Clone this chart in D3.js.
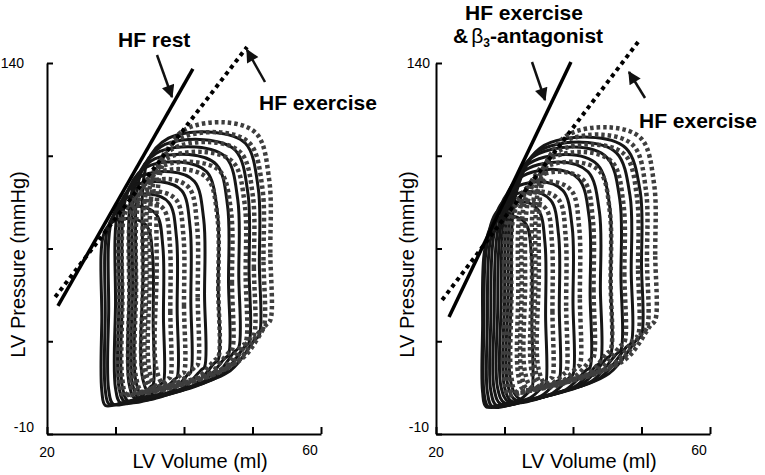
<!DOCTYPE html>
<html>
<head>
<meta charset="utf-8">
<script src="https://cdn.jsdelivr.net/npm/d3@7"></script>
<style>
body { margin: 0; background: #fff; }
text { font-family: "Liberation Sans", Arial, sans-serif; }
</style>
</head>
<body>
<div id="chart"></div>
<script>
// axis ticks
var volumeTicks = [20, 30, 40, 50, 60];
var pressureTicks = [140, 102.5, 65, 27.5, -10];

// each loop: [ESV, EDV, end-systolic P, peak P, end-diastolic P, min P]
var restLoops = [
  [34, 51, 100, 112, 30, 6],
  [33, 49.5, 95, 109, 27, 5],
  [32.5, 48, 93, 106, 25, 4],
  [32, 46.5, 90, 103, 22, 4],
  [31, 45, 86, 100, 20, 3],
  [30.5, 43, 83, 96, 17, 3],
  [30, 41, 81, 92, 15, 2.5],
  [29, 39, 76, 87, 13, 2],
  [28.5, 37, 73, 82, 11, 2],
  [28, 35.5, 71, 77, 10, 1.5]
];
var exerciseLoopsA = [
  [36, 52.6, 97, 116, 36, 10],
  [35, 51.6, 93, 112, 33, 9],
  [34.5, 50.2, 91, 108, 30, 8],
  [34, 49, 89, 104, 27, 8],
  [33, 47, 86, 100, 24, 7],
  [32.5, 45, 84, 97, 21, 7],
  [32, 42, 82, 93, 18, 7],
  [31, 40, 79, 88, 15, 6],
  [30.5, 38, 77, 84, 13, 6]
];
var antagonistLoops = [
  [31, 50, 88, 110, 30, 4],
  [30.5, 48.5, 85, 108, 27, 3.5],
  [30, 47, 82, 106, 24, 3],
  [29.5, 45.5, 79, 103, 22, 3],
  [29, 44, 76, 100, 19, 2.5],
  [28.5, 42.5, 73, 97, 17, 2],
  [28, 40, 71, 92, 14, 1.5],
  [27.5, 38, 68, 88, 12, 1],
  [27, 36, 65, 84, 10, 1],
  [26.8, 34, 64, 78, 8, 1]
];
var exerciseLoopsB = [
  [35, 52, 94, 114, 36, 10],
  [34.5, 50.8, 92, 111, 33, 10],
  [34, 49.5, 90, 107, 30, 9],
  [33, 47.5, 86, 104, 27, 9],
  [32.5, 45.5, 85, 100, 24, 8],
  [32, 43, 83, 96, 21, 8],
  [31, 41, 79, 92, 18, 7],
  [30.5, 39, 77, 88, 15, 7],
  [30, 37, 75, 84, 13, 6]
];

// end-systolic pressure-volume lines, [volume, pressure] ends
var restLine = [[21.6, 41.8], [41.3, 137.6]];
var exerciseLineA = [[21.2, 45.4], [49.2, 146.5]];
var antagonistLine = [[21.9, 37.3], [39.7, 140.4]];
var exerciseLineB = [[20.9, 44.2], [49.5, 148.5]];

var width = 765, height = 475;
var plotW = 274, plotH = 371, plotTop = 63;

var svg = d3.select("#chart").append("svg")
  .attr("width", width)
  .attr("height", height);

var defs = svg.append("defs");
defs.append("marker")
  .attr("id", "head")
  .attr("viewBox", "0 0 10 10")
  .attr("refX", 9).attr("refY", 5)
  .attr("markerWidth", 16).attr("markerHeight", 13)
  .attr("markerUnits", "userSpaceOnUse")
  .attr("orient", "auto")
  .append("path").attr("d", "M0,0L10,5L0,10z").attr("fill", "#111");

var x = d3.scaleLinear().domain([20, 60]).range([0, plotW]);
var y = d3.scaleLinear().domain([-10, 140]).range([plotH, 0]);

var line = d3.line()
  .x(function(d) { return x(d[0]); })
  .y(function(d) { return y(d[1]); })
  .curve(d3.curveCatmullRomClosed.alpha(0.5));

// key points of one loop
function loopPoints(l) {
  var esv = l[0], edv = l[1], pes = l[2], pmax = l[3], edp = l[4], pmin = l[5];
  var w = edv - esv, fill = edp - pmin;
  return [
    [edv, edp],
    [edv, (edp + 0.78 * pmax) / 2],
    [edv - 0.01 * w, 0.8 * pmax],
    [edv - 0.12 * w, 0.96 * pmax],
    [edv - 0.4 * w, pmax],
    [esv + 0.22 * w, pes + 0.8 * (pmax - pes)],
    [esv + 0.04 * w, pes],
    [esv, (pes + pmin) / 2],
    [esv, pmin + 6],
    [esv + 0.07 * w, pmin],
    [esv + 0.38 * w, pmin + 0.12 * fill],
    [edv - 0.25 * w, pmin + 0.4 * fill],
    [edv - 0.04 * w, edp - 0.08 * fill]
  ];
}

function drawPanel(x0, solidLoops, dottedLoops, solidLine, dottedLine, opts) {
  var g = svg.append("g").attr("transform", "translate(" + x0 + "," + plotTop + ")");

  g.selectAll(".solid").data(solidLoops).enter().append("path")
    .attr("d", function(d) { return line(loopPoints(d)); })
    .attr("fill", "none")
    .attr("stroke", "#161616")
    .attr("stroke-width", 3);

  g.selectAll(".dotted").data(dottedLoops).enter().append("path")
    .attr("d", function(d) { return line(loopPoints(d)); })
    .attr("fill", "none")
    .attr("stroke", "#3e3e3e")
    .attr("stroke-width", 4.5)
    .attr("stroke-dasharray", "3.5,3");

  g.append("line")
    .attr("x1", x(solidLine[0][0])).attr("y1", y(solidLine[0][1]))
    .attr("x2", x(solidLine[1][0])).attr("y2", y(solidLine[1][1]))
    .attr("stroke", "#000").attr("stroke-width", 3.5);
  g.append("line")
    .attr("x1", x(dottedLine[0][0])).attr("y1", y(dottedLine[0][1]))
    .attr("x2", x(dottedLine[1][0])).attr("y2", y(dottedLine[1][1]))
    .attr("stroke", "#000").attr("stroke-width", 4)
    .attr("stroke-dasharray", "4,4");

  // axes
  g.append("g")
    .attr("transform", "translate(0," + plotH + ")")
    .call(d3.axisBottom(x).tickValues(volumeTicks).tickSize(-7).tickSizeOuter(0).tickFormat(""))
    .call(function(a) { a.selectAll("path, line").attr("stroke", "#000").attr("stroke-width", 2); });
  g.append("g")
    .call(d3.axisLeft(y).tickValues(pressureTicks).tickSize(-6).tickSizeOuter(0).tickFormat(""))
    .call(function(a) { a.selectAll("path, line").attr("stroke", "#000").attr("stroke-width", 2); });

  // end tick labels
  g.append("text").attr("x", x(20)).attr("y", plotH + 23)
    .attr("text-anchor", "middle").attr("font-size", 14).text("20");
  g.append("text").attr("x", x(60) - 11).attr("y", plotH + 21)
    .attr("text-anchor", "middle").attr("font-size", 14).text("60");
  g.append("text").attr("x", opts.topLabelX).attr("y", y(140) + 5)
    .attr("text-anchor", "end").attr("font-size", 14).text("140");
  g.append("text").attr("x", opts.bottomLabelX).attr("y", y(-10) - 2)
    .attr("text-anchor", "end").attr("font-size", 14).text("-10");

  g.append("text")
    .attr("x", plotW / 2 + 16).attr("y", plotH + 34)
    .attr("text-anchor", "middle").attr("font-size", 20)
    .text("LV Volume (ml)");
  g.append("text")
    .attr("transform", "translate(-22," + (plotH / 2 + 16) + ")rotate(-90)")
    .attr("text-anchor", "middle").attr("font-size", 20)
    .text("LV Pressure (mmHg)");

  return g;
}

function arrow(g, a, b) {
  g.append("line")
    .attr("x1", a[0]).attr("y1", a[1]).attr("x2", b[0]).attr("y2", b[1])
    .attr("stroke", "#111").attr("stroke-width", 2.5)
    .attr("marker-end", "url(#head)");
}

function label(g, px, py, txt) {
  g.append("text").attr("x", px).attr("y", py)
    .attr("font-size", 21).attr("font-weight", "bold").text(txt);
}

var left = drawPanel(47, restLoops, exerciseLoopsA, restLine, exerciseLineA, { topLabelX: -23, bottomLabelX: -13 });
label(left, 71, -16, "HF rest");
arrow(left, [110, -8], [125, 34]);
label(left, 212, 47, "HF exercise");
arrow(left, [218, 19], [200, -13]);

var right = drawPanel(436, antagonistLoops, exerciseLoopsB, antagonistLine, exerciseLineB, { topLabelX: -6, bottomLabelX: -7 });
label(right, 29, -43, "HF exercise");
var t = right.append("text").attr("x", 17).attr("y", -20)
  .attr("font-size", 21).attr("font-weight", "bold");
t.append("tspan").text("&");
t.append("tspan").attr("dx", 3).attr("font-weight", "normal").text("\u03b2");
t.append("tspan").attr("font-size", 12).attr("dy", 4).text("3");
t.append("tspan").attr("dy", -4).text("-antagonist");
arrow(right, [96, -1], [109, 37]);
label(right, 203, 65, "HF exercise");
arrow(right, [209, 35], [193, 9]);
</script>
</body>
</html>
